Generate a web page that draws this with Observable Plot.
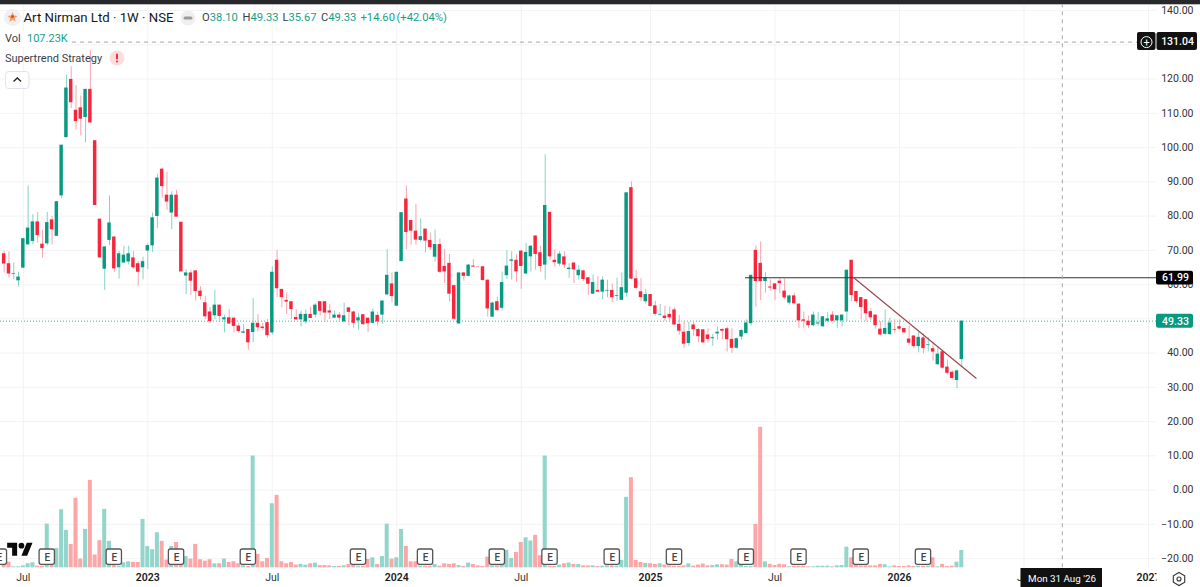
<!DOCTYPE html>
<html><head><meta charset="utf-8">
<script src="https://cdn.jsdelivr.net/npm/d3@7"></script>
<script src="https://cdn.jsdelivr.net/npm/@observablehq/plot@0.6"></script>
<style>
html,body{margin:0;padding:0;background:#fff;width:1200px;height:587px;overflow:hidden;font-family:Roboto,sans-serif}
#chart{position:absolute;left:0;top:0}
#chart svg{display:block;max-width:none}
.h{position:absolute;white-space:nowrap;line-height:1}
.g{color:#159f88}.k{color:#3a3e49}
</style></head><body>
<div id="chart"></div>
<div class="h" style="left:0;top:0;width:1200px;height:3.5px;background:#26282c"></div>
<div class="h" style="left:0;top:3.5px;width:1200px;height:1.2px;background:#bdbdbd"></div>
<svg class="h" style="left:3px;top:8px" width="20" height="20"><circle cx="9.5" cy="9.5" r="8.5" fill="#eef0f5"/><path d="M9.5 4l1.4 3.6 3.6.3-2.8 2.3 1 3.6-3.2-2-3.2 2 1-3.6L4.500 7.900l3.600-.3z" fill="#f0a060"/><circle cx="9.500" cy="8.500" r="1.500" fill="#e8413c"/></svg>
<div class="h" id="title" style="left:23.500px;top:11px;font-size:13.200px;color:#131722">Art Nirman Ltd · 1W · NSE</div>
<svg class="h" style="left:180px;top:10px" width="16" height="16"><circle cx="8" cy="8" r="7.500" fill="#efefef"/><rect x="3.500" y="6.500" width="9" height="3" rx="1.500" fill="#9a9a9a"/></svg>
<div class="h k" style="left:202px;top:12px;font-size:11.200px">O<span class="g">38.10</span></div>
<div class="h k" style="left:242.500px;top:12px;font-size:11.200px">H<span class="g">49.33</span></div>
<div class="h k" style="left:282.500px;top:12px;font-size:11.200px">L<span class="g">35.67</span></div>
<div class="h k" style="left:321px;top:12px;font-size:11.200px">C<span class="g">49.33</span></div>
<div class="h g" style="left:360.500px;top:12px;font-size:11.200px">+14.60</div>
<div class="h g" style="left:396.500px;top:12px;font-size:11.200px">(+42.04%)</div>
<div class="h" style="left:0;top:31px;height:15px;width:68px;background:#fff"></div>
<div class="h k" style="left:5px;top:32.500px;font-size:11px">Vol</div>
<div class="h g" style="left:27px;top:32.500px;font-size:11px">107.23K</div>
<div class="h k" style="left:5px;top:52.500px;font-size:11px">Supertrend Strategy</div>
<svg class="h" style="left:109px;top:50px" width="16" height="16"><circle cx="8" cy="8" r="7.500" fill="#fddcdc"/><rect x="7" y="3.500" width="2" height="6" rx="1" fill="#ee3344"/><circle cx="8" cy="11.500" r="1.100" fill="#ee3344"/></svg>
<svg class="h" style="left:4.500px;top:70.500px" width="25" height="18"><rect x=".5" y=".5" width="23.500" height="17" rx="3" fill="#fff" stroke="#e0e3eb"/><path d="M8.500 10.500l3.800-3.500 3.800 3.500" fill="none" stroke="#222" stroke-width="1.300"/></svg>
<svg class="h" style="left:7px;top:540px" width="26" height="20" viewBox="0 0 36 28"><path d="M14 22H7V11H0V4h14v18zM28 22h-8l7.500-18h8L28 22z" fill="#0a0a0a"/><circle cx="20" cy="8" r="4" fill="#0a0a0a"/></svg>
<svg class="h" style="left:1171px;top:571px" width="16" height="16"><path d="M8 1.500l5.700 3.250v6.500L8 14.500l-5.700-3.250v-6.500z" fill="none" stroke="#333" stroke-width="1.100"/><circle cx="8" cy="8" r="2" fill="none" stroke="#333" stroke-width="1.100"/></svg>
<script>
const opens=[69.0,66.1,63.0,61.1,64.8,71.6,72.6,78.3,71.8,71.9,78.9,74.1,85.9,102.9,119.9,110.9,111.6,108.8,117.0,102.0,79.1,64.5,72.9,73.9,64.9,66.3,66.6,67.8,66.1,64.9,69.8,71.3,79.9,93.7,86.1,80.9,86.1,78.2,62.5,63.4,64.0,58.1,54.7,52.0,50.9,54.0,49.7,50.3,50.2,47.9,45.8,46.9,46.0,48.7,47.6,48.9,45.9,67.1,58.6,55.4,55.0,50.4,49.7,49.1,51.3,51.1,55.0,55.0,52.3,50.2,51.1,49.1,53.2,52.0,49.4,51.2,50.2,48.7,51.0,51.1,57.0,60.2,53.7,66.7,85.0,78.7,75.6,72.9,76.2,72.9,68.0,71.7,65.3,66.2,59.7,48.5,63.4,62.4,65.4,65.2,65.2,61.3,50.5,55.0,53.1,62.6,66.8,67.1,69.8,63.1,68.1,74.2,69.3,65.7,81.1,67.1,66.0,68.1,64.4,66.3,62.6,64.0,62.0,57.2,58.3,57.8,58.1,58.3,56.6,55.4,57.5,88.3,61.7,57.9,55.0,57.1,53.8,51.1,50.8,51.3,52.6,48.4,46.1,42.8,48.2,46.9,46.8,45.3,44.2,45.6,46.9,47.1,44.0,41.4,44.7,45.7,48.6,70.0,66.2,60.9,59.3,60.2,61.0,58.1,54.6,56.7,54.3,49.7,49.3,48.0,48.5,47.7,49.3,51.1,49.4,49.4,52.0,67.1,58.0,56.2,55.6,52.1,51.1,47.0,45.5,45.4,46.9,47.7,47.2,44.1,45.0,41.9,44.4,42.2,41.3,36.6,40.4,35.9,34.4,32.0,38.10];
const highs=[69.7,69.5,66.3,63.6,73.4,88.8,80.4,81.1,76.0,81.1,79.9,84.2,100.7,121.2,123.6,118.1,115.0,117.0,128.4,102.0,79.1,71.0,85.9,73.9,69.7,71.2,71.2,69.7,66.8,68.0,72.1,80.9,92.3,94.0,92.8,87.1,87.5,78.2,64.4,64.2,64.0,59.4,56.6,53.3,58.3,54.0,51.1,52.7,50.2,48.7,48.3,46.9,55.9,51.2,48.7,49.8,65.2,70.0,58.6,57.6,55.0,52.7,52.3,52.6,53.4,54.4,55.0,55.0,54.2,52.3,51.8,54.6,53.2,52.3,51.5,51.2,50.2,52.9,52.0,55.2,70.2,63.4,63.6,81.0,88.8,78.7,83.4,79.2,76.2,75.1,76.0,73.3,70.3,68.8,59.7,63.6,63.6,65.9,67.3,65.2,65.2,61.3,54.9,56.3,63.7,69.9,69.6,68.7,69.8,72.0,71.4,74.2,71.2,97.9,81.1,70.2,69.6,69.6,66.1,66.3,65.5,64.0,62.0,62.8,62.3,62.3,61.3,60.2,61.9,63.4,86.8,90.0,64.2,61.7,58.6,57.1,55.1,54.2,53.7,53.5,53.2,51.0,49.3,49.0,49.2,47.1,46.8,47.1,45.5,47.6,47.1,47.6,47.1,44.4,46.8,49.7,62.7,71.3,72.5,63.5,61.4,60.2,62.0,61.6,56.9,57.5,54.3,52.0,50.8,52.0,51.8,50.7,51.8,52.1,51.0,51.1,64.2,67.1,58.0,56.2,55.6,53.0,51.1,49.2,52.6,50.2,49.7,49.7,47.2,48.0,45.0,46.0,45.6,44.6,43.2,41.7,40.9,38.0,34.9,35.1,49.33];
const lows=[63.4,61.9,61.4,59.3,64.8,71.6,71.6,72.1,67.8,71.3,71.6,74.1,85.1,102.9,111.4,105.1,103.4,101.3,107.1,83.1,67.8,58.3,71.3,63.6,61.6,66.1,65.8,64.4,59.5,61.4,64.4,69.4,76.4,85.2,81.6,76.0,79.7,63.7,57.1,56.8,55.2,55.4,49.8,48.7,49.8,49.0,45.9,48.3,45.9,45.7,45.7,40.8,43.0,46.1,46.7,44.4,45.2,56.2,53.2,51.3,49.8,49.6,47.6,48.5,50.1,50.3,50.8,49.2,49.8,50.1,49.3,49.0,47.9,47.2,46.7,48.1,46.0,48.5,47.8,48.4,56.8,54.7,53.7,66.7,70.2,71.5,71.5,72.4,69.3,70.0,66.6,63.2,60.3,54.9,49.8,48.5,61.0,62.3,65.0,65.1,61.0,50.5,50.5,52.1,52.3,61.5,61.3,60.8,58.6,62.9,63.6,64.2,63.6,61.3,67.0,65.1,65.3,64.7,61.8,60.3,61.3,60.9,56.8,57.1,57.7,55.6,56.2,54.7,55.1,55.3,56.3,61.5,58.5,55.1,54.3,53.5,50.8,51.0,49.3,49.3,48.1,45.2,41.4,42.0,44.9,43.0,42.9,43.0,42.0,43.8,43.8,40.3,39.9,41.2,43.8,45.6,47.9,53.4,55.3,57.5,58.1,55.3,57.3,55.7,54.0,54.1,47.2,47.0,47.2,47.7,47.9,47.5,48.9,49.2,47.2,47.7,49.2,55.0,54.4,49.7,49.2,49.5,47.0,45.1,45.2,45.2,45.8,46.6,45.8,42.3,41.3,40.1,39.8,40.3,37.7,36.5,35.3,33.6,32.0,29.6,35.67];
const closes=[66.0,63.1,63.2,62.2,73.4,76.5,78.3,74.3,70.5,78.1,76.0,84.2,100.7,117.4,113.1,107.6,108.3,117.0,107.2,83.1,67.8,71.0,78.0,64.6,69.0,68.6,69.0,64.9,63.6,66.7,71.4,79.5,91.1,88.6,84.1,86.1,79.7,63.7,63.4,61.0,58.0,56.5,50.6,49.2,54.0,50.7,50.3,48.5,47.8,46.3,46.2,43.0,48.7,47.4,47.2,45.1,63.6,58.8,56.2,54.9,52.7,49.7,51.3,51.3,50.1,54.0,52.2,51.7,51.7,51.1,50.2,50.9,51.9,48.7,50.3,48.3,48.6,52.0,49.1,55.2,62.7,56.5,63.6,81.0,75.2,75.6,73.0,74.0,72.7,70.8,71.7,63.6,63.7,57.2,49.9,63.4,62.4,65.7,65.1,65.1,61.2,52.9,54.6,52.4,60.6,65.4,67.2,63.7,65.3,69.4,71.2,68.8,65.3,83.1,68.1,66.4,68.9,65.7,64.8,64.3,64.2,61.5,60.1,60.6,57.8,61.3,58.3,56.2,56.8,59.1,86.8,61.6,58.9,56.2,57.1,53.6,51.3,51.3,50.1,50.3,48.2,46.4,42.6,46.3,46.8,44.8,43.0,44.0,44.5,46.1,46.4,43.9,41.4,44.2,46.6,48.8,62.7,60.9,60.9,62.0,59.0,58.5,60.3,56.1,56.7,54.4,49.4,49.3,48.0,51.1,48.8,50.6,50.0,49.3,50.9,51.1,64.2,56.8,55.0,53.3,51.5,50.3,48.0,45.3,47.2,48.8,46.7,47.0,45.9,42.9,41.9,44.6,41.3,42.4,40.3,39.7,35.6,34.1,32.6,34.8,49.33];
const volumesK=[21,35,6,6,12,25,31,10,10,271,14,120,360,232,145,431,54,238,542,79,168,362,164,14,10,31,37,33,33,300,132,112,217,164,48,132,157,66,70,54,145,50,41,50,25,25,54,33,37,25,12,8,693,83,37,58,397,449,37,25,33,17,21,17,25,29,14,14,12,8,8,12,21,17,10,10,52,62,21,70,271,54,62,238,132,37,37,10,10,10,21,10,25,21,25,14,8,29,21,12,8,66,12,12,25,108,58,95,157,186,166,201,75,693,10,8,17,25,29,21,21,12,12,12,8,10,12,12,10,46,437,559,46,33,27,25,21,25,17,12,10,10,12,25,10,17,23,12,14,19,19,17,52,37,17,8,8,269,871,37,21,14,21,19,6,10,10,10,6,6,10,10,10,6,12,14,128,62,17,12,12,12,12,21,19,6,12,8,8,12,8,10,10,10,62,6,21,8,10,35,107.23];
const earningsIdx=[-1,9,23,36,51,74,88,103,114,127,140,155,166,179,192];
const julyIdx=[4,56,108,161,213];
const yearIdx=[30,82,135,187,239];
const yearLabels=["2023","2024","2025","2026","2027"];
const priceGrid=[140,130,120,110,100,90,80,70,60,50,40,30,20,10,0,-10,-20];
const priceLabels=[140,120,110,100,90,80,70,60,40,30,20,10,0,-10,-20];
const hLevel=61.99, lastClose=49.33, crossPrice=130.8, crossLabel="131.04", crossIdx=221, dateLabel="Mon 31 Aug '26";
const trend=[{i:177.45,p:61.99},{i:203,p:32.67}];

const fmtPrice=v=>(v<0?"\u2212":"")+Math.abs(v).toFixed(2);
const GREEN="#089981",RED="#f7253d";
const candles=opens.map((o,i)=>({i,o,h:highs[i],l:lows[i],c:closes[i],v:volumesK[i],up:closes[i]>=o}));
const PXI=4.788,PX0=3.67,PY0=489.6,PYU=3.425;
const ix=px=>(px-PX0)/PXI, py=px=>(PY0-px)/PYU;
const VBASE=py(567.3), VPER=PYU*6.2;   // volume pane shares the frame: 1 price unit = VPER thousand shares
const xMin=ix(0),xMax=ix(1200),yMin=py(587),yMax=py(0),xPanel=ix(1156.5);
const F="Roboto,sans-serif";

const plot=Plot.plot({
  width:1200,height:587,margin:0,
  style:{background:"#fff",fontFamily:F,overflow:"hidden"},
  x:{type:"linear",domain:[xMin,xMax],range:[0,1200]},
  y:{type:"linear",domain:[yMin,yMax],range:[587,0]},
  marks:[
    Plot.ruleY(priceGrid,{x1:xMin,x2:xPanel,stroke:"#f3f3f3",strokeWidth:1}),
    Plot.ruleX([...julyIdx,...yearIdx],{y1:VBASE,y2:yMax,stroke:"#f3f3f3",strokeWidth:1}),
    Plot.rect(candles,{x1:d=>d.i-.42,x2:d=>d.i+.42,y1:VBASE,y2:d=>VBASE+d.v/VPER,fill:d=>d.up?"#92d5ca":"#fda6a8"}),
    Plot.ruleY([lastClose],{x1:xMin,x2:xPanel,stroke:GREEN,strokeDasharray:"1,2",strokeOpacity:.75,strokeWidth:1}),
    Plot.ruleX(candles,{x:"i",y1:"l",y2:"h",stroke:d=>d.up?"#86d2c4":"#f9a3ad",strokeWidth:1}),
    Plot.rect(candles,{x1:d=>d.i-.36,x2:d=>d.i+.36,y1:"o",y2:"c",fill:d=>d.up?GREEN:RED}),
    Plot.ruleY([hLevel],{x1:ix(745),x2:xPanel,stroke:"#333",strokeWidth:1.1}),
    Plot.line(trend,{x:"i",y:"p",stroke:"#9c4a50",strokeWidth:1.2}),
    Plot.rect(earningsIdx,{x1:d=>d-1.6,x2:d=>d+1.6,y1:py(564.3),y2:py(549),fill:"#fff",stroke:"#555",strokeWidth:1.3,rx:2}),
    Plot.text(earningsIdx,{x:d=>d,y:py(556.8),text:()=>"E",fontSize:10,fill:"#444",fontWeight:500}),
    Plot.ruleY([crossPrice],{x1:xMin,x2:ix(1137),stroke:"#a6a6a6",strokeDasharray:"4,4"}),
    Plot.ruleX([crossIdx],{y1:VBASE,y2:py(5),stroke:"#a6a6a6",strokeDasharray:"4,4"}),
    Plot.axisX({ticks:julyIdx,tickSize:0,tickPadding:-14,tickFormat:()=>"Jul",fontSize:10.5,fill:"#333",fontFamily:F}),
    Plot.axisX({ticks:yearIdx,tickSize:0,tickPadding:-14,tickFormat:d=>yearLabels[yearIdx.indexOf(d)],fontSize:10.5,fontWeight:600,fill:"#1a1a1a",fontFamily:F}),
    Plot.rect([0],{x1:xPanel,x2:xMax,y1:yMin,y2:yMax,fill:"#fff"}),
    Plot.axisY({anchor:"right",ticks:priceLabels,tickSize:0,tickPadding:-7,textAnchor:"end",tickFormat:fmtPrice,fontSize:10.5,fill:"#333",fontFamily:F}),
    Plot.rect([hLevel],{x1:ix(1156),x2:ix(1193),y1:d=>d-2.1,y2:d=>d+1.9,fill:"#000",rx:2}),
    Plot.text([hLevel],{x:ix(1175),y:d=>d,text:d=>d.toFixed(2),fill:"#fff",fontSize:10.5,fontWeight:500}),
    Plot.rect([lastClose],{x1:ix(1156),x2:ix(1193),y1:d=>d-2.1,y2:d=>d+2,fill:GREEN,rx:2}),
    Plot.text([lastClose],{x:ix(1175),y:d=>d,text:d=>d.toFixed(2),fill:"#fff",fontSize:10.5,fontWeight:500}),
    Plot.rect([crossPrice],{x1:ix(1137),x2:ix(1155.5),y1:py(50),y2:py(32),fill:"#111",rx:2}),
    Plot.rect([crossPrice],{x1:ix(1156.5),x2:ix(1197),y1:py(50),y2:py(32),fill:"#111",rx:2}),
    Plot.dot([crossPrice],{x:ix(1146),y:d=>d,r:5.5,stroke:"#fff",strokeWidth:1}),
    Plot.text([crossPrice],{x:ix(1146),y:d=>d,text:()=>"+",fill:"#fff",fontSize:11}),
    Plot.text([crossPrice],{x:ix(1177),y:d=>d,text:()=>crossLabel,fill:"#fff",fontSize:10.5,fontWeight:500}),
    Plot.rect([crossIdx],{x1:ix(1020.5),x2:ix(1102),y1:yMin,y2:py(568),fill:"#111"}),
    Plot.text([crossIdx],{x:ix(1061.5),y:py(578.5),text:()=>dateLabel,fill:"#fff",fontSize:9.8})
  ]
});
document.getElementById("chart").append(plot);
</script>
</body></html>
